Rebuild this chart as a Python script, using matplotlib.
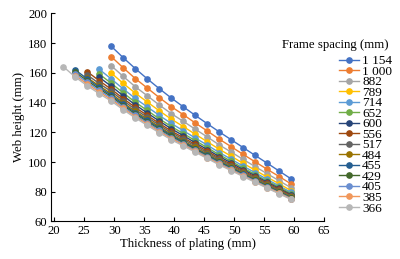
import matplotlib
matplotlib.use("Agg")
import matplotlib.pyplot as plt

plt.rcParams['font.family'] = ['Liberation Serif', 'DejaVu Serif']

# thickness of plating (mm) positions
thick_all = [21.5, 23.5, 25.5, 27.5, 29.5, 31.5, 33.5, 35.5, 37.5, 39.5,
             41.5, 43.5, 45.5, 47.5, 49.5, 51.5, 53.5, 55.5, 57.5, 59.5]

labels = ["1 154", "1 000", "882", "789", "714", "652", "600", "556",
          "517", "484", "455", "429", "405", "385", "366"]

colors = ["#4472C4", "#ED7D31", "#A5A5A5", "#FFC000", "#5B9BD5", "#70AD47",
          "#264478", "#9E480E", "#636363", "#997300", "#255E91", "#43682B",
          "#698ED0", "#F1975A", "#B7B7B7"]

# index into thick_all where each series starts
start_idx = [4, 4, 4, 4, 3, 3, 3, 2, 2, 2, 1, 1, 1, 1, 0]

h1154 = [177.9, 170.2, 162.9, 156.0, 149.4, 143.1, 137.2, 131.4, 125.8, 120.3,
         115.0, 109.7, 104.4, 99.2, 93.9, 88.6]
h1000 = [170.9, 163.4, 156.2, 149.8, 143.4, 137.3, 131.9, 126.3, 120.9, 115.4,
         110.3, 105.1, 100.1, 95.1, 90.2, 85.2]
h882 = [164.8, 157.6, 150.7, 144.6, 138.4, 132.6, 127.4, 122.1, 116.9, 111.5,
        106.7, 101.7, 96.9, 92.1, 87.4, 82.6]
h789 = [159.9, 152.9, 146.4, 140.4, 134.5, 128.9, 123.9, 118.7, 113.7, 108.6,
        103.9, 99.1, 94.5, 89.8, 85.3, 80.7]
h714 = [162.4, 155.9, 149.2, 142.8, 137.1, 131.4, 126.0, 121.1, 116.2, 111.4,
        106.4, 101.9, 97.2, 92.8, 88.3, 83.9, 79.5]
h652 = [159.2, 153.0, 146.5, 140.3, 134.7, 129.1, 123.9, 119.2, 114.4, 109.7,
        104.9, 100.5, 95.9, 91.6, 87.2, 83.0, 78.7]
h600 = [157.0, 151.0, 144.6, 138.5, 133.0, 127.6, 122.4, 117.8, 113.0, 108.4,
        103.7, 99.4, 94.9, 90.7, 86.4, 82.2, 78.0]
h556 = [160.8, 154.7, 149.0, 142.7, 136.8, 131.4, 126.0, 120.9, 116.4, 111.8,
        107.3, 102.6, 98.4, 94.0, 89.9, 85.6, 81.6, 77.4]
h517 = [158.6, 152.8, 147.5, 141.3, 135.4, 130.1, 124.8, 119.8, 115.4, 110.8,
        106.3, 101.8, 97.6, 93.3, 89.2, 85.0, 81.0, 76.9]
h484 = [156.8, 151.2, 146.0, 139.9, 134.1, 128.9, 123.7, 118.7, 114.3, 109.8,
        105.4, 100.9, 96.8, 92.5, 88.5, 84.4, 80.4, 76.4]
h455 = [162.0, 155.9, 150.2, 145.0, 138.9, 133.2, 128.0, 122.9, 118.0, 113.6,
        109.1, 104.8, 100.3, 96.2, 92.0, 88.0, 83.9, 80.0, 76.0]
h429 = [160.6, 154.7, 149.2, 144.0, 138.0, 132.3, 127.2, 122.1, 117.2, 112.9,
        108.5, 104.2, 99.7, 95.7, 91.5, 87.6, 83.6, 79.7, 75.7]
h405 = [159.4, 153.6, 148.2, 143.0, 137.1, 131.4, 126.4, 121.3, 116.5, 112.2,
        107.8, 103.6, 99.2, 95.2, 91.1, 87.2, 83.2, 79.3, 75.4]
h385 = [158.2, 152.4, 147.1, 142.0, 136.1, 130.6, 125.5, 120.5, 115.8, 111.6,
        107.2, 103.0, 98.6, 94.7, 90.6, 86.7, 82.8, 79.0, 75.1]
h366 = [164.2, 157.2, 151.3, 146.0, 141.0, 135.2, 129.7, 124.7, 119.7, 115.0,
        110.9, 106.6, 102.4, 98.1, 94.2, 90.2, 86.3, 82.4, 78.6, 74.8]

heights = [h1154, h1000, h882, h789, h714, h652, h600, h556, h517, h484,
           h455, h429, h405, h385, h366]

fig = plt.figure(figsize=(4.0, 2.59), dpi=100)
ax = fig.add_axes([0.1275, 0.145, 0.683, 0.803])

for lab, col, s, h in zip(labels, colors, start_idx, heights):
    ax.plot(thick_all[s:], h, color=col, marker='o', markersize=3.8,
            linewidth=1.0, label=lab)

ax.set_xlim(19.45, 65)
ax.set_ylim(60, 200)
ax.set_xticks(range(20, 66, 5))
ax.set_yticks(range(60, 201, 20))
ax.spines['top'].set_visible(False)
ax.spines['right'].set_visible(False)
ax.tick_params(direction='in', length=3, labelsize=9.2, pad=2.5)
ax.set_xlabel("Thickness of plating (mm)", fontsize=9.2, labelpad=0.5)
ax.set_ylabel("Web height (mm)", fontsize=9.2, labelpad=2)

fig.text(0.838, 1 - 45 / 259, "Frame spacing (mm)", fontsize=9.2,
         ha='center', va='center')
ax.legend(loc='upper left', bbox_to_anchor=(339 / 400, 1 - 55 / 259),
          bbox_transform=fig.transFigure, frameon=False, fontsize=9.5,
          labelspacing=-0.13, handlelength=1.5, handletextpad=0.25,
          borderpad=0, borderaxespad=0)

fig.savefig("out.png", dpi=100)
